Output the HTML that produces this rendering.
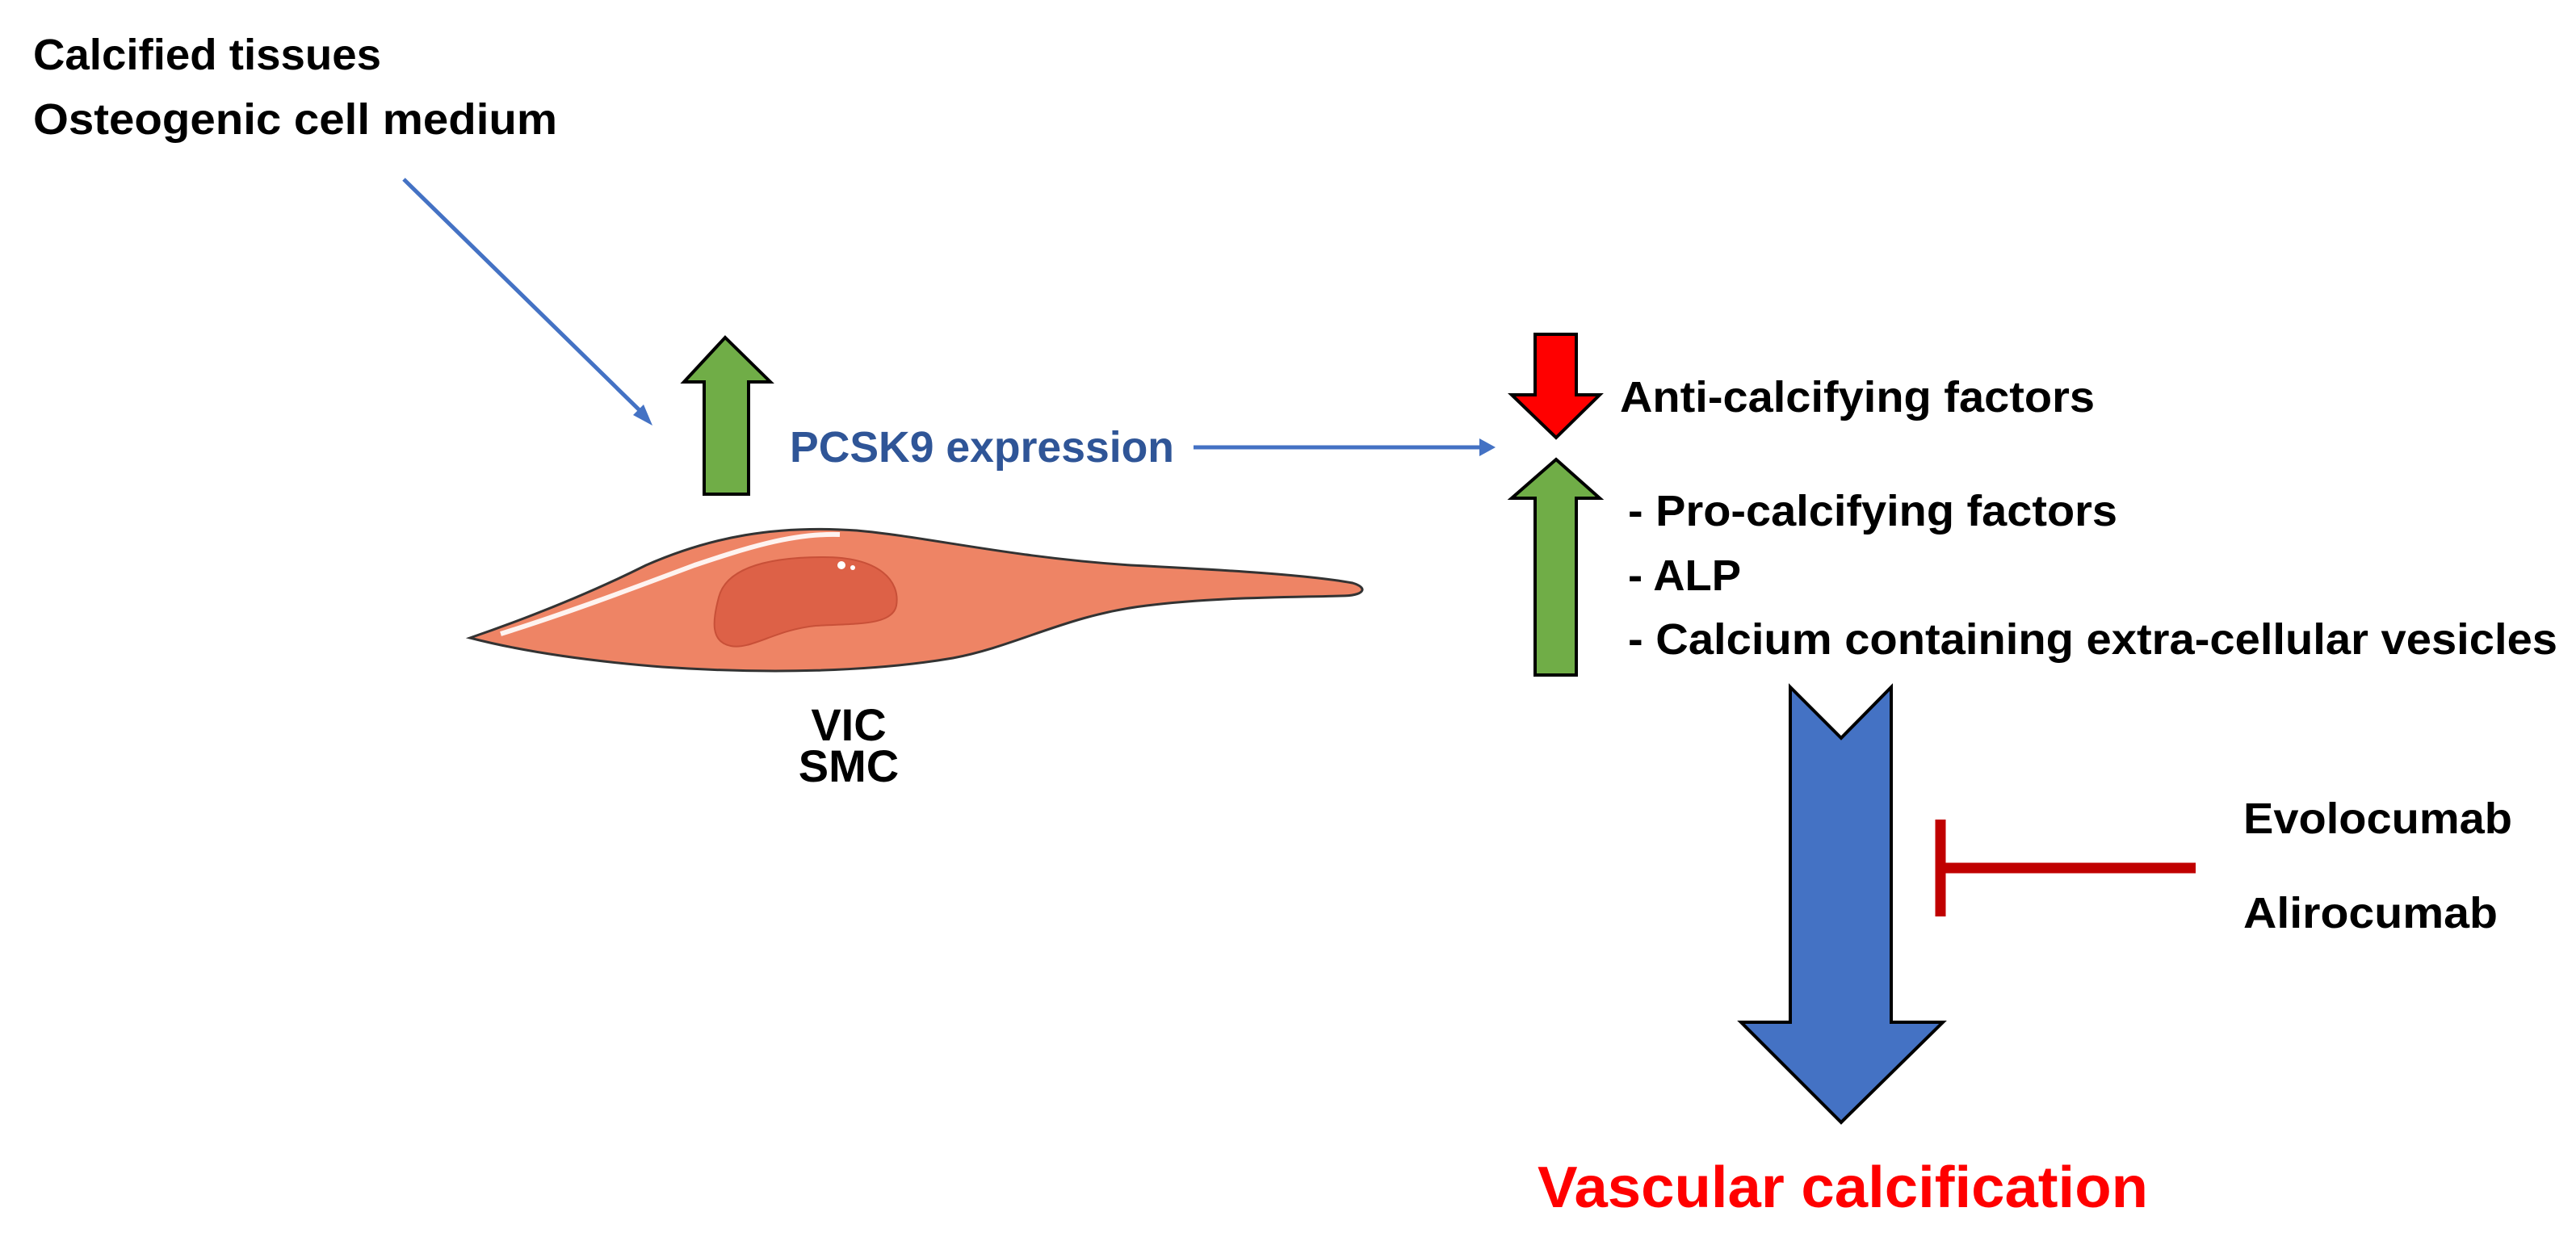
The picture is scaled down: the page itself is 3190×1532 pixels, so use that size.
<!DOCTYPE html>
<html><head><meta charset="utf-8"><style>html,body{margin:0;padding:0;background:#fff}svg{display:block}</style></head>
<body>
<svg width="3190" height="1532" viewBox="0 0 3190 1532" xmlns="http://www.w3.org/2000/svg" font-family="'Liberation Sans', sans-serif" font-weight="bold">
<defs>
<marker id="ah" markerWidth="8" markerHeight="8" refX="6" refY="4" orient="auto" markerUnits="userSpaceOnUse" viewBox="0 0 8 8">
</marker>
</defs>
<!-- top-left text -->
<text x="41" y="86" font-size="54" textLength="431" lengthAdjust="spacingAndGlyphs" fill="#000">Calcified tissues</text>
<text x="41" y="166" font-size="54" textLength="649" lengthAdjust="spacingAndGlyphs" fill="#000">Osteogenic cell medium</text>
<!-- diagonal arrow -->
<line x1="500" y1="222" x2="796" y2="512" stroke="#4472C4" stroke-width="5"/>
<polygon points="808,527 784,514 797,501" fill="#4472C4"/>
<!-- green up arrow left -->
<polygon points="898,418 954,473 927,473 927,612 872,612 872,473 847,473" fill="#70AD47" stroke="#000" stroke-width="4"/>
<!-- PCSK9 -->
<text x="978" y="572" font-size="54" textLength="476" lengthAdjust="spacingAndGlyphs" fill="#2F5597">PCSK9 expression</text>
<line x1="1478" y1="554" x2="1836" y2="554" stroke="#4472C4" stroke-width="5"/>
<polygon points="1852,554 1832,543 1832,565" fill="#4472C4"/>
<!-- cell -->
<path d="M582,790 C640,770 720,740 800,700 C880,665 960,650 1061,657 C1150,665 1250,690 1400,700 C1520,706 1620,712 1675,722 C1695,728 1690,738 1660,738 C1580,740 1500,740 1420,750 C1320,762 1260,800 1180,815 C1080,832 950,835 820,826 C720,818 640,805 582,790 Z" fill="#EE8465" stroke="#333" stroke-width="3"/>
<path d="M620,785 C700,760 780,730 860,700 C920,680 980,660 1040,662" fill="none" stroke="#fff" stroke-width="6" opacity="0.9"/>
<path d="M890,740 C900,700 960,690 1020,690 C1090,690 1115,720 1110,750 C1105,775 1060,772 1010,775 C960,780 930,805 905,800 C880,795 882,770 890,740 Z" fill="#DD6147" stroke="#C85038" stroke-width="2"/>
<circle cx="1042" cy="700" r="5" fill="#fff"/><circle cx="1056" cy="703" r="3" fill="#fff"/>
<text x="1051" y="917" font-size="56" text-anchor="middle" fill="#000">VIC</text>
<text x="1051" y="968" font-size="56" text-anchor="middle" fill="#000">SMC</text>
<!-- red down arrow -->
<polygon points="1901,414 1952,414 1952,489 1981,489 1927,542 1872,489 1901,489" fill="#FF0000" stroke="#000" stroke-width="4"/>
<!-- green up arrow right -->
<polygon points="1927,569 1981,617 1952,617 1952,836 1901,836 1901,617 1872,617" fill="#70AD47" stroke="#000" stroke-width="4"/>
<text x="2006" y="510" font-size="54" textLength="588" lengthAdjust="spacingAndGlyphs" fill="#000">Anti-calcifying factors</text>
<text x="2016" y="651" font-size="54" textLength="606" lengthAdjust="spacingAndGlyphs" fill="#000">- Pro-calcifying factors</text>
<text x="2016" y="731" font-size="54" textLength="140" lengthAdjust="spacingAndGlyphs" fill="#000">- ALP</text>
<text x="2016" y="810" font-size="54" textLength="1151" lengthAdjust="spacingAndGlyphs" fill="#000">- Calcium containing extra-cellular vesicles</text>
<!-- big blue arrow -->
<polygon points="2217,851 2280,914 2342,851 2342,1266 2406,1266 2280,1390 2156,1266 2217,1266" fill="#4472C4" stroke="#000" stroke-width="4"/>
<!-- inhibition -->
<line x1="2403" y1="1015" x2="2403" y2="1135" stroke="#C00000" stroke-width="13"/>
<line x1="2403" y1="1075" x2="2719" y2="1075" stroke="#C00000" stroke-width="13"/>
<text x="2778" y="1032" font-size="54" textLength="333" lengthAdjust="spacingAndGlyphs" fill="#000">Evolocumab</text>
<text x="2778" y="1149" font-size="54" textLength="315" lengthAdjust="spacingAndGlyphs" fill="#000">Alirocumab</text>
<text x="1904" y="1495" font-size="72" textLength="756" lengthAdjust="spacingAndGlyphs" fill="#FF0000">Vascular calcification</text>
</svg>
</body></html>
